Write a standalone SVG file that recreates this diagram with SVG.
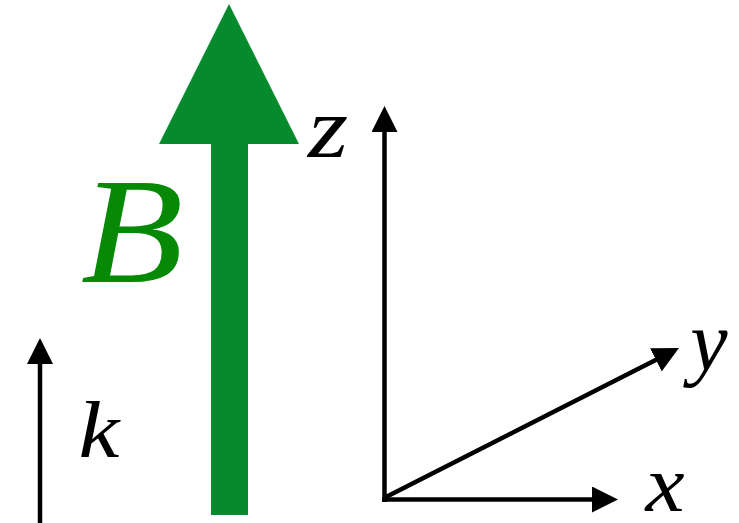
<svg xmlns="http://www.w3.org/2000/svg" width="739" height="523" viewBox="0 0 739 523">
<style>
.ax{stroke:#000;stroke-width:4.5;fill:none;marker-end:url(#ah)}
.lbl{font-family:"Liberation Serif","DejaVu Serif",serif;font-style:italic;fill:#000;text-anchor:middle}
</style>
<defs>
<marker id="ah" markerUnits="userSpaceOnUse" viewBox="0 0 26 26" markerWidth="26" markerHeight="26" refX="2" refY="13" orient="auto">
<path d="M0,0 L26,13 L0,26 z" fill="#000"/>
</marker>
</defs>
<rect width="739" height="523" fill="#fff"/>
<g id="B-field">
<polygon points="229,4 299,144 248,144 248,515 211,515 211,144 159,144" fill="#078a2e"/>
<text class="lbl" transform="translate(132,282) scale(1.12,1)" x="0" y="0" font-size="150" style="fill:#068a06">B</text>
</g>
<g id="connectors">
<line class="ax" x1="384.5" y1="502" x2="384.5" y2="130"/>
<line class="ax" x1="382" y1="499.5" x2="594" y2="499.5"/>
<line class="ax" x1="384" y1="498" x2="657.6" y2="358.9"/>
<line class="ax" x1="40" y1="523" x2="40" y2="362"/>
</g>
<g id="label-z"><text class="lbl" transform="translate(328,157) scale(1.2,1)" x="0" y="0" font-size="86">z</text></g>
<g id="label-y"><text class="lbl" x="709" y="370" font-size="84">y</text></g>
<g id="label-x"><text class="lbl" transform="translate(665,511) scale(1.1,1)" x="0" y="0" font-size="80">x</text></g>
<g id="label-k"><text class="lbl" transform="translate(99,457) scale(1.15,1)" x="0" y="0" font-size="80">k</text></g>
</svg>
